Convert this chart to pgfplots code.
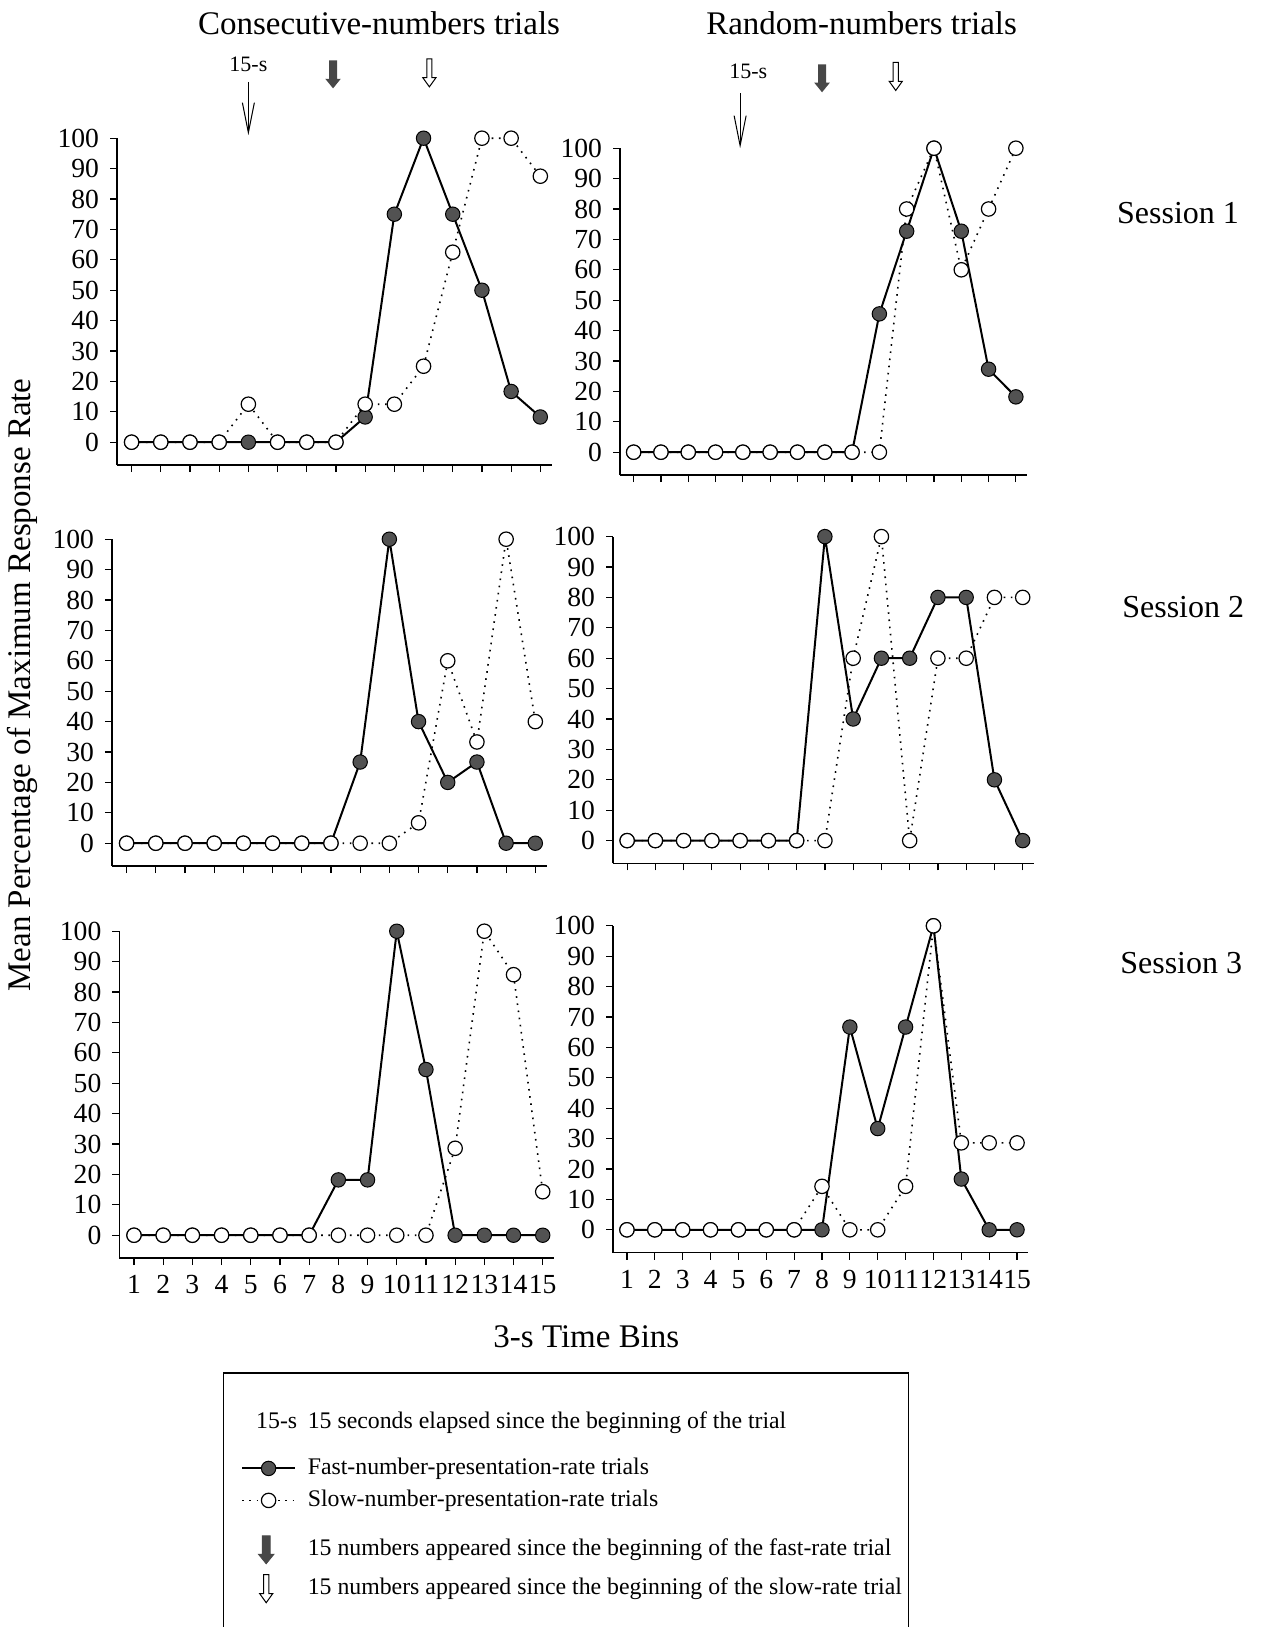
\documentclass[border=0pt]{standalone}
\usepackage{fontspec}
\setmainfont{Liberation Serif}
\usepackage{pgfplots}
\usepackage{pgfplotstable}
\pgfplotsset{compat=1.18}
\usetikzlibrary{arrows.meta}
\definecolor{darkdot}{gray}{0.32}

% bin, fast-rate trials, slow-rate trials
\pgfplotstableread{
bin fast slow
1 0 0
2 0 0
3 0 0
4 0 0
5 0 12.5
6 0 0
7 0 0
8 0 0
9 8.3 12.5
10 75 12.5
11 100 25
12 75 62.5
13 50 100
14 16.7 100
15 8.3 87.5
}\tabA
\pgfplotstableread{
bin fast slow
1 0 0
2 0 0
3 0 0
4 0 0
5 0 0
6 0 0
7 0 0
8 0 0
9 0 0
10 45.5 0
11 72.7 80
12 100 100
13 72.7 60
14 27.3 80
15 18.2 100
}\tabB
\pgfplotstableread{
bin fast slow
1 0 0
2 0 0
3 0 0
4 0 0
5 0 0
6 0 0
7 0 0
8 0 0
9 26.7 0
10 100 0
11 40 6.7
12 20 60
13 26.7 33.3
14 0 100
15 0 40
}\tabC
\pgfplotstableread{
bin fast slow
1 0 0
2 0 0
3 0 0
4 0 0
5 0 0
6 0 0
7 0 0
8 100 0
9 40 60
10 60 100
11 60 0
12 80 60
13 80 60
14 20 80
15 0 80
}\tabD
\pgfplotstableread{
bin fast slow
1 0 0
2 0 0
3 0 0
4 0 0
5 0 0
6 0 0
7 0 0
8 18.2 0
9 18.2 0
10 100 0
11 54.5 0
12 0 28.6
13 0 100
14 0 85.7
15 0 14.3
}\tabE
\pgfplotstableread{
bin fast slow
1 0 0
2 0 0
3 0 0
4 0 0
5 0 0
6 0 0
7 0 0
8 0 14.3
9 66.7 0
10 33.3 0
11 66.7 14.3
12 100 100
13 16.7 28.6
14 0 28.6
15 0 28.6
}\tabF

% block arrows (annotations), centred at the given point
\newcommand{\fillarrow}[1]{\fill[black!72, shift={#1}] (-2pt,7pt) -- (2pt,7pt) -- (2pt,-2.2pt) -- (3.9pt,-2.2pt) -- (0pt,-7pt) -- (-3.9pt,-2.2pt) -- (-2pt,-2.2pt) -- cycle;}
\newcommand{\openarrow}[1]{\filldraw[draw=black, fill=white, line width=0.5pt, shift={#1}] (-1.3pt,7pt) -- (1.3pt,7pt) -- (1.3pt,-2.4pt) -- (3.3pt,-2.4pt) -- (0pt,-7pt) -- (-3.3pt,-2.4pt) -- (-1.3pt,-2.4pt) -- cycle;}

\tikzset{
  thinarrow/.style={line width=0.5pt, -{Straight Barb[length=15pt, width=6pt, line width=0.5pt]}},
  smalllab/.style={font=\fontsize{11}{12}\selectfont, inner sep=0pt},
}
\pgfplotsset{
  panel/.style={
    scale only axis, height=163.4pt, anchor=south west,
    xmin=0.5, xmax=15.4, ymin=-7.5, ymax=100,
    axis x line*=bottom, axis y line*=left,
    axis line style={-, line width=0.7pt},
    tick align=outside, major tick length=3.5pt,
    tick style={black, line width=0.6pt},
    xtick={1,...,15}, ytick={0,10,...,100},
    clip=false,
    /pgf/number format/assume math mode=true,
    ticklabel style={font=\fontsize{13.8}{14}\selectfont},
    yticklabel style={xshift=-2pt},
    xticklabel style={yshift=-5pt, inner sep=0pt},
  },
  notick/.style={xticklabels={}},
  fastline/.style={black, line width=1pt, mark=*, mark size=3.6pt,
    mark options={solid, fill=darkdot, draw=black, line width=0.5pt}},
  slowline/.style={black, line width=0.8pt, dash pattern=on 0.8pt off 2.8pt, mark=*, mark size=3.6pt,
    mark options={solid, fill=white, draw=black, line width=0.6pt}},
  fastleg/.style={fastline, legend image code/.code={\draw[##1, mark repeat=2, mark phase=2] plot coordinates {(0pt,0pt) (13.2pt,0pt) (26.5pt,0pt)};}},
  slowleg/.style={slowline, legend image code/.code={\draw[##1, mark repeat=2, mark phase=2] plot coordinates {(0pt,0pt) (13.2pt,0pt) (26.5pt,0pt)};}},
  secleg/.style={legend image code/.code={\node[anchor=base west, inner sep=0pt, font=\fontsize{11.9}{14}\selectfont] at (6.8pt,-3pt) {15-s};}},
  fillleg/.style={legend image code/.code={\fillarrow{(12pt,0pt)}}},
  openleg/.style={legend image code/.code={\openarrow{(12pt,0pt)}}},
}

\begin{document}
\begin{tikzpicture}
\path[use as bounding box] (0pt,0pt) rectangle (630pt,-813.5pt);

% ---- Session 1, consecutive
\begin{axis}[panel, notick, width=217.5pt, at={(58.5pt,-232.5pt)}]
\addplot[fastline] table[x=bin, y=fast] {\tabA};
\addplot[slowline] table[x=bin, y=slow] {\tabA};
\node[smalllab] at (axis cs:5,124.3) {15-s};
\draw[thinarrow] (axis cs:5,118.5) -- (axis cs:5,101);
\fillarrow{(axis cs:7.9,121)}
\openarrow{(axis cs:11.2,121.5)}
\end{axis}

% ---- Session 1, random
\begin{axis}[panel, notick, width=203.4pt, at={(310pt,-237.5pt)}]
\addplot[fastline] table[x=bin, y=fast] {\tabB};
\addplot[slowline] table[x=bin, y=slow] {\tabB};
\node[smalllab] at (axis cs:5.2,125.3) {15-s};
\draw[thinarrow] (axis cs:4.9,118) -- (axis cs:4.9,100);
\fillarrow{(axis cs:7.9,123)}
\openarrow{(axis cs:10.6,123.6)}
\end{axis}

% ---- Session 2, consecutive
\begin{axis}[panel, notick, width=217.5pt, at={(56pt,-433pt)}]
\addplot[fastline] table[x=bin, y=fast] {\tabC};
\addplot[slowline] table[x=bin, y=slow] {\tabC};
\end{axis}

% ---- Session 2, random
\begin{axis}[panel, notick, width=210.5pt, at={(306.5pt,-431.7pt)}]
\addplot[fastline] table[x=bin, y=fast] {\tabD};
\addplot[slowline] table[x=bin, y=slow] {\tabD};
\end{axis}

% ---- Session 3, consecutive
\begin{axis}[panel, width=217.5pt, at={(59.7pt,-629pt)}]
\addplot[fastline] table[x=bin, y=fast] {\tabE};
\addplot[slowline] table[x=bin, y=slow] {\tabE};
\end{axis}

% ---- Session 3, random
\begin{axis}[panel, width=207.6pt, at={(306.5pt,-626.3pt)}]
\addplot[fastline] table[x=bin, y=fast] {\tabF};
\addplot[slowline] table[x=bin, y=slow] {\tabF};
\end{axis}

% ---- titles and labels
\node[font=\fontsize{16.5}{18}\selectfont] at (189.5pt,-11.5pt) {Consecutive-numbers trials};
\node[font=\fontsize{16.5}{18}\selectfont] at (430.8pt,-11.5pt) {Random-numbers trials};
\node[font=\fontsize{16}{18}\selectfont] at (589pt,-106.4pt) {Session 1};
\node[font=\fontsize{16}{18}\selectfont] at (591.6pt,-303.6pt) {Session 2};
\node[font=\fontsize{16}{18}\selectfont] at (590.6pt,-481.6pt) {Session 3};
\node[font=\fontsize{16.5}{18}\selectfont, rotate=90] at (11.4pt,-342.5pt) {Mean Percentage of Maximum Response Rate};
\node[font=\fontsize{16.5}{18}\selectfont] at (293.2pt,-668.4pt) {3-s Time Bins};

% ---- legend box
\draw[line width=0.6pt] (111.6pt,-813.5pt) -- (111.6pt,-686.5pt) -- (454.1pt,-686.5pt) -- (454.1pt,-813.5pt);

\begin{axis}[hide axis, scale only axis, width=10pt, height=10pt, anchor=north west,
  at={(120.4pt,-705.5pt)}, xmin=0, xmax=1, ymin=0, ymax=1,
  legend style={at={(0,1)}, anchor=north west, draw=none, fill=none,
    font=\fontsize{11.9}{14}\selectfont, inner sep=0pt, row sep=5pt,
    nodes={inner sep=0pt, text height=8.5pt, text depth=2.5pt},
    /tikz/every odd column/.append style={column sep=5.3pt}},
  legend cell align=left]
\addlegendimage{secleg}
\addlegendentry{15 seconds elapsed since the beginning of the trial}
\addlegendimage{empty legend}
\addlegendentry[text height=2pt, text depth=0pt]{}
\addlegendimage{fastleg}
\addlegendentry{Fast-number-presentation-rate trials}
\addlegendimage{slowleg}
\addlegendentry{Slow-number-presentation-rate trials}
\addlegendimage{empty legend}
\addlegendentry[text height=2pt, text depth=0pt]{}
\addlegendimage{fillleg}
\addlegendentry{15 numbers appeared since the beginning of the fast-rate trial}
\addlegendimage{openleg}
\addlegendentry{15 numbers appeared since the beginning of the slow-rate trial}
\end{axis}
\end{tikzpicture}
\end{document}
